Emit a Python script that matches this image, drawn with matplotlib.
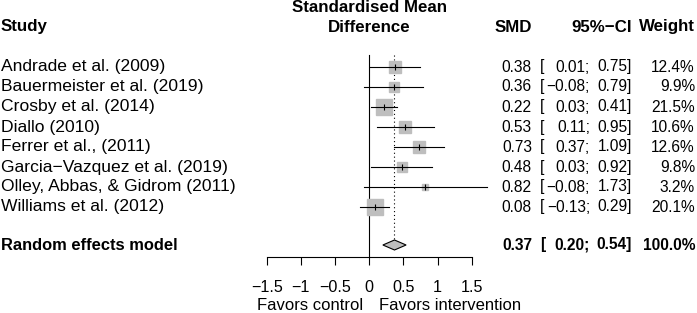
import matplotlib
matplotlib.use("Agg")
import matplotlib.pyplot as plt
import numpy as np

# data
studies = ["Andrade et al. (2009)", "Bauermeister et al. (2019)", "Crosby et al. (2014)",
           "Diallo (2010)", "Ferrer et al., (2011)", "Garcia\u2212Vazquez et al. (2019)",
           "Olley, Abbas, & Gidrom (2011)", "Williams et al. (2012)"]
smd = [0.38, 0.36, 0.22, 0.53, 0.73, 0.48, 0.82, 0.08]
lower = [0.01, -0.08, 0.03, 0.11, 0.37, 0.03, -0.08, -0.13]
upper = [0.75, 0.79, 0.41, 0.95, 1.09, 0.92, 1.73, 0.29]
weight = [12.4, 9.9, 21.5, 10.6, 12.6, 9.8, 3.2, 20.1]
re_est, re_lo, re_hi = 0.37, 0.20, 0.54
ticks = [-1.5, -1, -0.5, 0, 0.5, 1, 1.5]

plt.rcParams['font.family'] = ['Liberation Sans', 'DejaVu Sans']
fs_name = 12.6   # study labels
fs_num = 11.2    # number columns
fs_head = 12.2
W, H = 697, 313

fig = plt.figure(figsize=(W / 100, H / 100), dpi=100)

def fx(px):
    return px / W

def fy(py):
    return 1 - py / H

# forest axes: x in SMD units, y in pixel rows from top
ax = fig.add_axes([fx(266.7), 0, 205 / W, 1])
ax.set_xlim(-1.5, 1.5)
ax.set_ylim(H, 0)
ax.patch.set_alpha(0)
for s in ["left", "right", "top"]:
    ax.spines[s].set_visible(False)
ax.spines["bottom"].set_position(("data", 257))
ax.spines["bottom"].set_linewidth(0.8)
ax.set_yticks([])
ax.set_xticks(ticks)
ax.set_xticklabels(["\u22121.5", "\u22121", "\u22120.5", "0", "0.5", "1", "1.5"])
ax.tick_params(axis="x", direction="out", length=5.8, width=0.8, pad=10.5, labelsize=11.6)

row_y = [67 + 20 * i for i in range(len(studies))]
re_y = 245

# reference lines
ax.plot([0, 0], [55, 257], color="black", lw=0.8, clip_on=False)
ax.plot([re_est, re_est], [55, 240], color="black", lw=0.8, ls=(0, (1, 2.5)), clip_on=False)

for y, m, lo, hi, w in zip(row_y, smd, lower, upper, weight):
    side = 3.45 * np.sqrt(w)
    ax.plot([m], [y], marker="s", ms=side * 0.72, color="#BEBEBE", mec="#BEBEBE", zorder=2)
    ax.plot([lo, hi], [y, y], color="black", lw=0.8, clip_on=False, zorder=3)
    ax.plot([m], [y], marker="|", ms=4, mew=0.8, color="black", zorder=4)

# summary diamond
ax.fill([re_lo, re_est, re_hi, re_est], [re_y, re_y - 5, re_y, re_y + 5],
        facecolor="#BEBEBE", edgecolor="black", lw=0.8, zorder=3)

# headers
bold = dict(fontsize=fs_head, fontweight="bold", va="center")
fig.text(fx(1), fy(27), "Study", ha="left", **bold)
fig.text(fx(369), fy(8), "Standardised Mean", ha="center", **bold)
fig.text(fx(369), fy(27), "Difference", ha="center", **bold)
fig.text(fx(532), fy(27), "SMD", ha="right", **bold)
fig.text(fx(632), fy(27), "95%\u2212CI", ha="right", **bold)
fig.text(fx(695), fy(27), "Weight", ha="right", **bold)

def fmt(v):
    return ("\u2212" if v < 0 else "") + "%.2f" % abs(v)

def row_text(y, name, m, lo, hi, wt, weight_kw, name_fs):
    kw = dict(fontsize=fs_num, va="center", fontweight=weight_kw)
    fig.text(fx(1), fy(y), name, ha="left", va="center", fontweight=weight_kw, fontsize=name_fs)
    fig.text(fx(532), fy(y), fmt(m), ha="right", **kw)
    fig.text(fx(540), fy(y), "[", ha="left", **kw)
    fig.text(fx(590), fy(y), fmt(lo) + ";", ha="right", **kw)
    fig.text(fx(632), fy(y), fmt(hi) + "]", ha="right", **kw)
    fig.text(fx(695), fy(y), wt, ha="right", **kw)

for y, name, m, lo, hi, w in zip(row_y, studies, smd, lower, upper, weight):
    row_text(y, name, m, lo, hi, "%.1f%%" % w, "normal", fs_name)
row_text(re_y, "Random effects model", re_est, re_lo, re_hi, "100.0%", "bold", 11.9)

fig.text(fx(363), fy(305), "Favors control", ha="right", va="center", fontsize=12.0)
fig.text(fx(379), fy(305), "Favors intervention", ha="left", va="center", fontsize=12.0)

fig.savefig("out.png", dpi=100)
